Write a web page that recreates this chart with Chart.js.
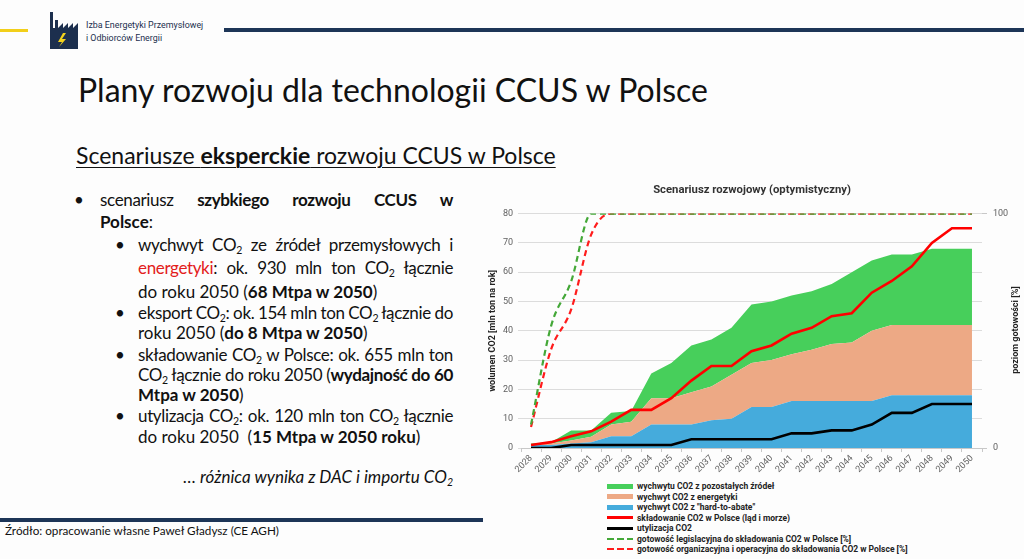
<!DOCTYPE html>
<html lang="pl">
<head>
<meta charset="utf-8">
<script src="https://cdn.jsdelivr.net/npm/chart.js@4.4.1/dist/chart.umd.min.js"></script>
<style>
  body { margin:0; width:1024px; height:559px; overflow:hidden; background:#fdfdfd; font-family: Lato, "Open Sans", sans-serif; color:#111; position:relative; }
  .abs { position:absolute; white-space:nowrap; }
  .ln { position:absolute; font-size:17px; line-height:20px; height:20px; white-space:nowrap; }
  .j { text-align:justify; text-align-last:justify; white-space:normal; letter-spacing:-0.35px; word-spacing:-1px; }
  sub { font-size:0.62em; vertical-align:-0.3em; line-height:0; }
  b { font-weight:700; }
  .dot { position:absolute; font-size:17px; line-height:20px; }
  #chartBox { position:absolute; left:480px; top:178px; width:544px; height:300px; }
  #legend { position:absolute; left:607px; top:481px; font-family:Roboto, sans-serif; font-weight:700; font-size:8.5px; color:#222; }
  #legend .row { height:10.5px; display:flex; align-items:center; }
  #legend .sw { width:26px; margin-right:4px; flex:none; }
  .rt { position:absolute; font-family:Roboto, sans-serif; font-weight:700; font-size:9px; color:#222; transform:rotate(-90deg); transform-origin:center; white-space:nowrap; }
</style>
</head>
<body>

<!-- naglowek -->
<div class="abs" style="left:0;top:29px;width:28px;height:3px;background:#f2cf1a"></div>
<svg class="abs" style="left:49px;top:11px" width="36" height="38" viewBox="0 0 36 38">
  <path fill="#1c2f4e" d="M1 1h3v16h2v-8h3v8l5-5v5l5-5v5l5-5v5l5-5v26H1z"/>
  <path fill="#f4d21c" d="M14 22l-5 9h4l-3 5 7-8h-4l4-6z"/>
</svg>
<div class="abs" style="left:86px;top:19px;font-family:Roboto,sans-serif;font-size:8.9px;line-height:13px;color:#1c2f4e">Izba Energetyki Przemysłowej<br>i Odbiorców Energii</div>
<div class="abs" style="left:224px;top:28px;width:800px;height:3.5px;background:#1d3557"></div>

<div class="abs" style="left:78px;top:70px;font-size:32px;line-height:40px">Plany rozwoju dla technologii CCUS w Polsce</div>
<div class="abs" style="left:76px;top:141px;font-size:23px;line-height:28px;text-decoration:underline;text-underline-offset:3px;text-decoration-thickness:1px">Scenariusze <b>eksperckie</b> rozwoju CCUS w Polsce</div>

<!-- punkty -->
<div class="dot" style="left:74px;top:190px">•</div>
<div class="ln j" style="left:100px;top:190px;width:353px">scenariusz <b>szybkiego rozwoju CCUS w</b></div>
<div class="ln" style="left:100px;top:212px"><b>Polsce</b>:</div>

<div class="dot" style="left:115px;top:235px">•</div>
<div class="ln j" style="left:138px;top:235px;width:315px">wychwyt CO<sub>2</sub> ze źródeł przemysłowych i</div>
<div class="ln j" style="left:138px;top:258px;width:315px"><span style="color:#e3201b">energetyki</span>: ok. 930 mln ton CO<sub>2</sub> łącznie</div>
<div class="ln" style="left:138px;top:282px">do roku 2050 (<b>68 Mtpa w 2050</b>)</div>

<div class="dot" style="left:115px;top:303px">•</div>
<div class="ln j" style="left:138px;top:303px;width:315px">eksport CO<sub>2</sub>: ok. 154 mln ton CO<sub>2</sub> łącznie do</div>
<div class="ln" style="left:138px;top:323px">roku 2050 (<b>do 8 Mtpa w 2050</b>)</div>

<div class="dot" style="left:115px;top:345px">•</div>
<div class="ln j" style="left:138px;top:345px;width:315px">składowanie CO<sub>2</sub> w Polsce: ok. 655 mln ton</div>
<div class="ln j" style="left:138px;top:365px;width:315px">CO<sub>2</sub> łącznie do roku 2050 (<b>wydajność do 60</b></div>
<div class="ln" style="left:138px;top:385px"><b>Mtpa w 2050</b>)</div>

<div class="dot" style="left:115px;top:406px">•</div>
<div class="ln j" style="left:138px;top:406px;width:315px">utylizacja CO<sub>2</sub>: ok. 120 mln ton CO<sub>2</sub> łącznie</div>
<div class="ln" style="left:138px;top:427px">do roku 2050&nbsp; (<b>15 Mtpa w 2050 roku</b>)</div>

<div class="ln" style="left:150px;top:467px;width:303px;text-align:right;font-style:italic">… różnica wynika z DAC i importu CO<sub>2</sub></div>

<!-- stopka -->
<div class="abs" style="left:0;top:518px;width:483px;height:3.5px;background:#1d3557"></div>
<div class="abs" style="left:5px;top:523px;font-size:11.7px;line-height:14px">Źródło: opracowanie własne Paweł Gładysz (CE AGH)</div>

<!-- wykres -->
<div id="chartBox"><canvas id="wykres"></canvas></div>
<div class="rt" style="left:965px;top:325px;width:100px;text-align:center">poziom gotowości [%]</div>
<div id="legend"></div>

<script>
const lata = ['2028','2029','2030','2031','2032','2033','2034','2035','2036','2037','2038','2039',
              '2040','2041','2042','2043','2044','2045','2046','2047','2048','2049','2050'];

// mln ton CO2 na rok (warstwy wykresu warstwowego)
const hardToAbate = [1, 1, 1.5, 2, 4, 4, 8, 8, 8, 9.5, 10, 14, 14, 16, 16, 16, 16, 16, 18, 18, 18, 18, 18];
const energetyka  = [0.2, 0.5, 1.1, 1.8, 4, 5, 9, 9, 11, 11.5, 15, 15, 16, 16, 17.5, 19.5, 20, 24, 24, 24, 24, 24, 24];
const pozostale   = [0.3, 0.5, 3.4, 2.2, 4, 3.6, 8.4, 12, 16, 16, 16, 20, 20, 20, 20, 20.5, 24, 24, 24, 24, 26, 26, 26];

const skladowanie = [1, 2, 4, 5.7, 9, 13, 13, 17, 23, 28, 28, 33, 35, 39, 41, 45, 46, 53, 57, 62, 70, 75, 75];
const utylizacja  = [0, 0, 1, 1, 1, 1, 1, 1, 3, 3, 3, 3, 3, 5, 5, 6, 6, 8, 12, 12, 15, 15, 15];

// poziom gotowosci [%]
const gotowoscLegis = [10, 52, 71, 100, 100, 100, 100, 100, 100, 100, 100, 100, 100, 100, 100, 100, 100, 100, 100, 100, 100, 100, 100];
const gotowoscOrg   = [9, 42, 59, 91, 100, 100, 100, 100, 100, 100, 100, 100, 100, 100, 100, 100, 100, 100, 100, 100, 100, 100, 100];

const tickFont = { family: 'Roboto', size: 9 };
const tickColor = '#5f5f5f';

function warstwa(label, data, color, fill) {
    return {
        label: label, data: data, stack: 'wychwyt', order: 2,
        backgroundColor: color, borderColor: color, borderWidth: 0,
        pointRadius: 0, fill: fill, tension: 0
    };
}

function linia(label, data, color, stack) {
    return {
        label: label, data: data, stack: stack, order: 1,
        borderColor: color, backgroundColor: color, borderWidth: 2.6,
        pointRadius: 0, fill: false, tension: 0
    };
}

function kreskowa(label, data, color) {
    return {
        label: label, data: data, yAxisID: 'y2', order: 1,
        borderColor: color, backgroundColor: color, borderWidth: 2.2,
        borderDash: [6, 4], pointRadius: 0, fill: false,
        cubicInterpolationMode: 'monotone'
    };
}

const datasets = [
    warstwa('wychwyt CO2 z "hard-to-abate"', hardToAbate, '#45abdc', 'origin'),
    warstwa('wychwyt CO2 z energetyki', energetyka, '#eda985', '-1'),
    warstwa('wychwytu CO2 z pozostałych źródeł', pozostale, '#47cf5b', '-1'),
    linia('składowanie CO2 w Polsce (ląd i morze)', skladowanie, '#ff0000', 'skl'),
    linia('utylizacja CO2', utylizacja, '#000000', 'uty'),
    kreskowa('gotowość legislacyjna do składowania CO2 w Polsce [%]', gotowoscLegis, '#44a838'),
    kreskowa('gotowość organizacyjna i operacyjna do składowania CO2 w Polsce [%]', gotowoscOrg, '#ff1c1c')
];

// kolejnosc w legendzie jak na oryginale
const kolejnoscLegendy = [2, 1, 0, 3, 4, 5, 6];

const htmlLegend = {
    id: 'htmlLegend',
    afterUpdate(chart) {
        const box = document.getElementById('legend');
        box.innerHTML = '';
        kolejnoscLegendy.forEach(i => {
            const ds = chart.data.datasets[i];
            const row = document.createElement('div');
            row.className = 'row';
            const sw = document.createElement('span');
            sw.className = 'sw';
            if (ds.fill) {
                sw.style.height = '5px';
                sw.style.background = ds.backgroundColor;
            } else if (ds.borderDash) {
                sw.style.height = '2.4px';
                sw.style.background = 'repeating-linear-gradient(90deg,' + ds.borderColor + ' 0 7px, transparent 7px 10px)';
            } else {
                sw.style.height = '2.6px';
                sw.style.background = ds.borderColor;
            }
            const txt = document.createElement('span');
            txt.textContent = ds.label;
            row.appendChild(sw);
            row.appendChild(txt);
            box.appendChild(row);
        });
    }
};

new Chart(document.getElementById('wykres'), {
    type: 'line',
    data: { labels: lata, datasets: datasets },
    plugins: [htmlLegend],
    options: {
        responsive: true,
        maintainAspectRatio: false,
        animation: false,
        layout: { padding: 0 },
        plugins: {
            legend: { display: false },
            tooltip: { enabled: false },
            title: {
                display: true,
                text: 'Scenariusz rozwojowy (optymistyczny)',
                font: { family: 'Roboto', size: 11.3, weight: 'bold' },
                color: '#333',
                padding: { top: 5, bottom: 17 }
            }
        },
        scales: {
            x: {
                offset: true,
                grid: { display: true, drawOnChartArea: false, offset: true, color: '#c8c8c8', tickLength: 4 },
                border: { color: '#c8c8c8' },
                ticks: { minRotation: 45, maxRotation: 45, autoSkip: false, font: tickFont, color: tickColor, padding: 1 },
                afterFit: s => { s.height = 30; }
            },
            y: {
                stacked: true,
                min: 0, max: 80,
                ticks: { stepSize: 10, font: tickFont, color: tickColor, padding: 5 },
                grid: { color: '#dcdcdc', tickLength: 3 },
                border: { display: false },
                title: {
                    display: true,
                    text: 'wolumen CO2 [mln ton na rok]',
                    font: { family: 'Roboto', size: 9, weight: 'bold' },
                    color: '#222',
                    padding: { top: 7, bottom: 0 }
                },
                afterFit: s => { s.width = 41; }
            },
            y2: {
                position: 'right',
                min: 0, max: 100,
                ticks: { stepSize: 100, font: tickFont, color: tickColor, padding: 6 },
                grid: { drawOnChartArea: false, color: '#c8c8c8', tickLength: 5 },
                border: { display: false },
                afterFit: s => { s.width = 42; }
            }
        }
    }
});
</script>
</body>
</html>
